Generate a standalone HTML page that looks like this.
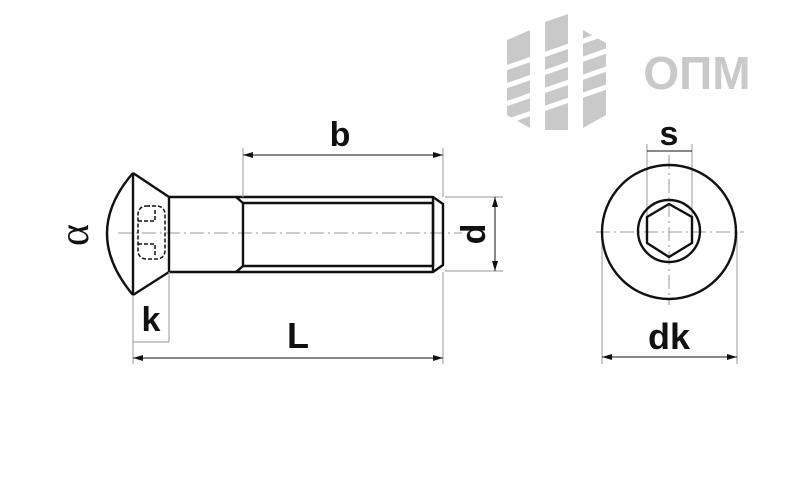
<!DOCTYPE html>
<html><head><meta charset="utf-8"><style>
html,body{margin:0;padding:0;background:#fff}
svg{display:block}
.lbl{font-family:"Liberation Sans",sans-serif;font-weight:bold;fill:#111}
</style></head><body>
<svg width="812" height="484" viewBox="0 0 812 484" xmlns="http://www.w3.org/2000/svg">
<defs>
<marker id="a" viewBox="0 0 10 6" refX="10" refY="3" markerWidth="10" markerHeight="6" orient="auto-start-reverse" markerUnits="userSpaceOnUse"><path d="M0,0 L10,3 L0,6 z" fill="#111"/></marker>
</defs>
<!-- logo -->
<g fill="#c9c9c9">
<polygon points="507,40 530,30 530,128 507,115"/>
<polygon points="545,22 568,14 568,130 545,130"/>
<polygon points="583,30 606,43 606,115 583,128"/>
</g>
<g stroke="#fff" stroke-width="5">
<line x1="500" y1="70" x2="615" y2="30"/>
<line x1="500" y1="88" x2="615" y2="48"/>
<line x1="500" y1="106" x2="615" y2="66"/>
<line x1="500" y1="124" x2="615" y2="84"/>
</g>
<text x="697" y="89" text-anchor="middle" font-family="Liberation Sans,sans-serif" font-weight="bold" font-size="46" fill="#c9c9c9">ОПМ</text>

<!-- center lines -->
<g stroke="#999" stroke-width="1" stroke-dasharray="14,4,2,4" fill="none">
<line x1="118" y1="233" x2="462" y2="233"/>
<line x1="596" y1="232" x2="744" y2="232"/>
<line x1="669" y1="155" x2="669" y2="305"/>
</g>

<!-- bolt side view -->
<g stroke="#111" stroke-width="2.4" fill="none" stroke-linejoin="round">
<path d="M133,173 Q81,233 133,295"/>
<line x1="133" y1="173" x2="133" y2="295"/>
<polyline points="133,173 169,197 169,272 133,295"/>
<polyline points="169,197 433,197 443,204 443,265 433,272 169,272"/>
<polyline points="236,197 243,203 433,203 433,266 243,266 236,272"/>
<line x1="243" y1="203" x2="243" y2="266"/>
<line x1="433" y1="197" x2="433" y2="272"/>
</g>
<g stroke="#111" stroke-width="1.5" fill="none" stroke-dasharray="4,2">
<rect x="138" y="206" width="27" height="53" rx="8"/>
<polyline points="138,221 155,221 155,210"/>
<polyline points="138,244 155,244 155,255"/>
</g>

<!-- dimension extension lines -->
<g stroke="#aaa" stroke-width="1.2" fill="none">
<line x1="243" y1="148" x2="243" y2="197"/>
<line x1="443" y1="148" x2="443" y2="197"/>
<line x1="443" y1="272" x2="443" y2="364"/>
<line x1="133" y1="295" x2="133" y2="364"/>
<line x1="169" y1="272" x2="169" y2="342"/>
<line x1="133" y1="342" x2="169" y2="342"/>
<line x1="445" y1="197" x2="503" y2="197"/>
<line x1="445" y1="271" x2="503" y2="271"/>
<line x1="647" y1="144" x2="647" y2="217"/>
<line x1="692" y1="144" x2="692" y2="217"/>
<line x1="602" y1="232" x2="602" y2="364"/>
<line x1="737" y1="232" x2="737" y2="364"/>
</g>
<g stroke="#111" stroke-width="1" fill="none">
<line x1="243" y1="155" x2="443" y2="155" marker-start="url(#a)" marker-end="url(#a)"/>
<line x1="133" y1="358" x2="443" y2="358" marker-start="url(#a)" marker-end="url(#a)"/>
<line x1="495" y1="197" x2="495" y2="271" marker-start="url(#a)" marker-end="url(#a)"/>
<line x1="647" y1="151" x2="692" y2="151"/>
<line x1="602" y1="357" x2="737" y2="357" marker-start="url(#a)" marker-end="url(#a)"/>
</g>

<!-- head view -->
<g stroke="#111" stroke-width="2.4" fill="none">
<circle cx="669" cy="232" r="67"/>
<circle cx="669" cy="231" r="31"/>
<polygon points="669,204 692,217 692,243 669,257 647,243 647,217"/>
</g>

<!-- labels -->
<text class="lbl" x="340" y="146" text-anchor="middle" font-size="34">b</text>
<text class="lbl" x="298" y="348" text-anchor="middle" font-size="36">L</text>
<text class="lbl" x="151" y="331" text-anchor="middle" font-size="34">k</text>
<text class="lbl" x="669" y="145" text-anchor="middle" font-size="34">s</text>
<text class="lbl" x="669" y="349" text-anchor="middle" font-size="36">dk</text>
<text class="lbl" font-size="34" text-anchor="middle" transform="translate(485,234) rotate(-90)">d</text>
<text font-family="Liberation Serif,serif" font-size="42" fill="#111" text-anchor="middle" transform="translate(88,235) rotate(-90)">α</text>
</svg>
</body></html>
